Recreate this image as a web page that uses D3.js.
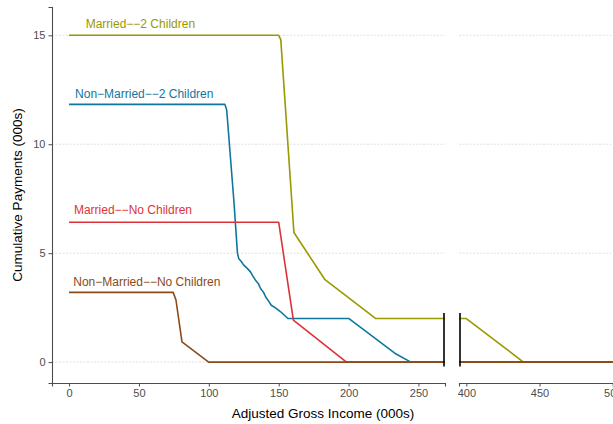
<!DOCTYPE html>
<html>
<head>
<meta charset="utf-8">
<title>Cumulative payments by AGI</title>
<style>

body {
  margin: 0;
  background-color: #fff;
  font-family: "Liberation Sans", Arial, Helvetica, sans-serif;
}

svg {
  display: block;
}

.grid line {
  stroke: #d9d9d9;
  stroke-width: 0.8;
  stroke-dasharray: 2,1.5;
}

.axis path,
.axis line {
  stroke: #4d4d4d;
}

.axis text {
  fill: #4d4d4d;
  font-size: 11px;
  font-family: "Liberation Sans", Arial, sans-serif;
}

.title {
  font-size: 13.5px;
  fill: #000;
}

</style>
</head>
<body>
<svg width="613" height="424"></svg>
<script src="https://cdn.jsdelivr.net/npm/d3@7"></script>
<script>

// income in 000s, payments in 000s
var incomeM2 = [0, 150, 151.5, 160.9, 182.9, 219.5, 400, 439, 500],
    payM2    = [15, 15, 14.8, 5.95, 3.8, 2.0, 2.0, 0, 0];

var incomeN2 = [0, 111.5, 112.8, 117.9, 120.5, 121.4, 123.2, 125, 127.5, 129.8, 131.2, 133.4, 135.5, 137, 139.2, 140.6, 142.8, 144.7, 148, 151.4, 156.6, 200.3, 234, 244.6, 500],
    payN2    = [11.83, 11.83, 11.57, 7.43, 5.0, 4.76, 4.62, 4.45, 4.3, 4.14, 3.98, 3.76, 3.6, 3.38, 3.2, 3.0, 2.8, 2.61, 2.48, 2.31, 2.0, 2.0, 0.37, 0, 0];

var incomeM0 = [0, 150, 160.5, 198.5, 500],
    payM0    = [6.42, 6.42, 1.93, 0, 0];

var incomeN0 = [0, 74.5, 76.5, 80.8, 99.9, 500],
    payN0    = [3.2, 3.2, 2.85, 0.93, 0, 0];

var seriesNames = ["Married\u2212\u22122 Children", "Non\u2212Married\u2212\u22122 Children",
                   "Married\u2212\u2212No Children", "Non\u2212Married\u2212\u2212No Children"];
var labelX = [11.9, 4.3, 3.5, 3.0],
    labelY = [15.33, 12.11, 6.79, 3.51];

var colours = ["#999900", "#0f779e", "#dc3339", "#8b4a1a"];

var yTicks = [0, 5, 10, 15],
    leftTicks = [0, 50, 100, 150, 200, 250],
    rightTicks = [400, 450, 500];

var breakBar = [-0.2, 2.25];

var series = [
  d3.zip(incomeM2, payM2),
  d3.zip(incomeN2, payN2),
  d3.zip(incomeM0, payM0),
  d3.zip(incomeN0, payN0)
];

var svg = d3.select("svg");

var y = d3.scaleLinear()
    .domain([-0.96, 16.3])
    .range([383, 7]);

var panels = [
  { x: d3.scaleLinear().domain([-12.2, 269]).range([52, 445]), ticks: leftTicks },
  { x: d3.scaleLinear().domain([395, 505]).range([459, 620]), ticks: rightTicks }
];

panels.forEach(function(p, k) {
  var r = p.x.range();

  svg.append("clipPath")
      .attr("id", "clip" + k)
    .append("rect")
      .attr("x", r[0])
      .attr("y", y.range()[1])
      .attr("width", r[1] - r[0])
      .attr("height", y.range()[0] - y.range()[1]);

  svg.append("g")
      .attr("class", "grid")
    .selectAll("line")
      .data(yTicks)
    .enter().append("line")
      .attr("x1", r[0])
      .attr("x2", r[1])
      .attr("y1", function(d) { return y(d); })
      .attr("y2", function(d) { return y(d); });

  var line = d3.line()
      .x(function(d) { return p.x(d[0]); })
      .y(function(d) { return y(d[1]); });

  svg.append("g")
      .attr("clip-path", "url(#clip" + k + ")")
    .selectAll("path")
      .data(series)
    .enter().append("path")
      .attr("d", line)
      .attr("fill", "none")
      .attr("stroke-width", 1.6)
      .attr("stroke-linejoin", "round")
      .attr("stroke", function(d, i) { return colours[i]; });

  svg.append("g")
      .attr("class", "axis")
      .attr("transform", "translate(0," + y.range()[0] + ")")
      .call(d3.axisBottom(p.x).tickValues(p.ticks).tickSizeOuter(0).tickSize(3.5).tickPadding(3))
    .select(".domain")
      .attr("stroke-width", 1.1);

  // break markers at the cut
  var bx = k == 0 ? r[1] - 1 : r[0] + 1;
  svg.append("line")
      .attr("x1", bx)
      .attr("x2", bx)
      .attr("y1", y(breakBar[0]))
      .attr("y2", y(breakBar[1]))
      .attr("stroke", "#000")
      .attr("stroke-width", 1.6);
});

svg.append("g")
    .attr("class", "axis")
    .attr("transform", "translate(" + panels[0].x.range()[0] + ",0)")
    .call(d3.axisLeft(y).tickValues(yTicks).tickSizeOuter(0).tickSize(3.5).tickPadding(3))
  .select(".domain")
    .attr("stroke-width", 1.1);

svg.append("g")
  .selectAll("text")
    .data(seriesNames)
  .enter().append("text")
    .attr("x", function(d, i) { return panels[0].x(labelX[i]); })
    .attr("y", function(d, i) { return y(labelY[i]); })
    .attr("fill", function(d, i) { return colours[i]; })
    .style("font-size", "12px")
    .text(function(d) { return d; });

svg.append("text")
    .attr("class", "title")
    .attr("text-anchor", "middle")
    .attr("x", 323)
    .attr("y", 418)
    .text("Adjusted Gross Income (000s)");

svg.append("text")
    .attr("class", "title")
    .attr("text-anchor", "middle")
    .attr("transform", "translate(22,195) rotate(-90)")
    .text("Cumulative Payments (000s)");

</script>
</body>
</html>
